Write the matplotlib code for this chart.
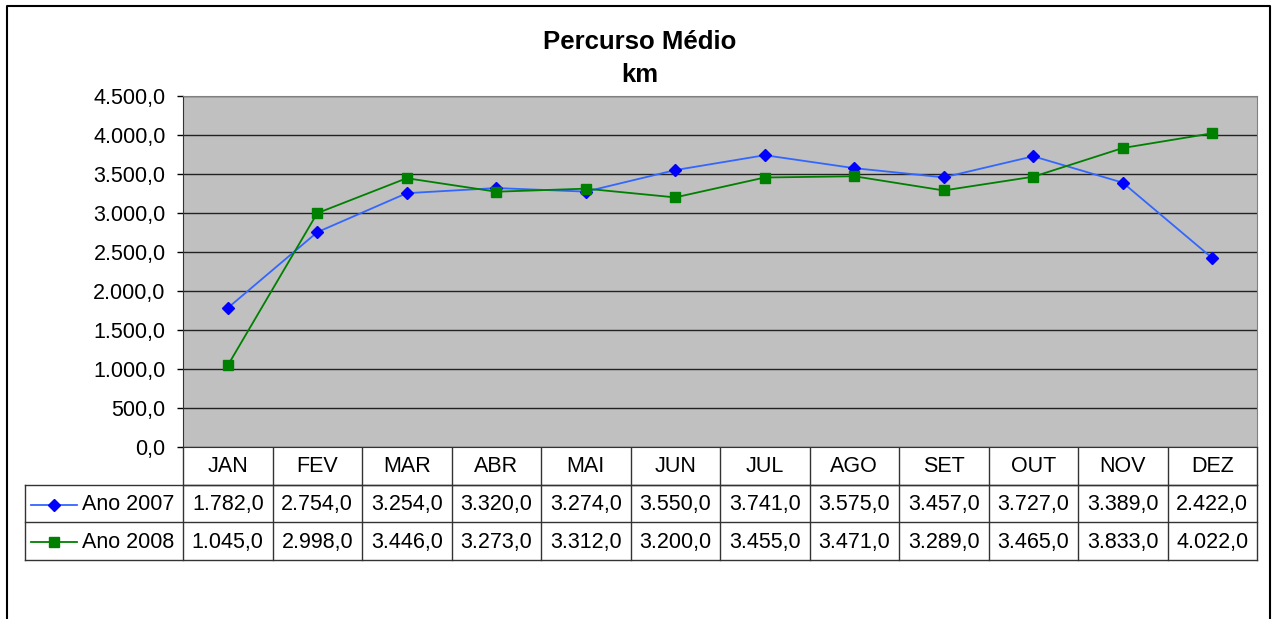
import matplotlib.pyplot as plt
from matplotlib.lines import Line2D

plt.rcParams['font.family'] = ['Liberation Sans', 'DejaVu Sans']

# Dados
meses = ['JAN', 'FEV', 'MAR', 'ABR', 'MAI', 'JUN', 'JUL', 'AGO', 'SET', 'OUT', 'NOV', 'DEZ']
ano_2007 = [1782.0, 2754.0, 3254.0, 3320.0, 3274.0, 3550.0, 3741.0, 3575.0, 3457.0, 3727.0, 3389.0, 2422.0]
ano_2008 = [1045.0, 2998.0, 3446.0, 3273.0, 3312.0, 3200.0, 3455.0, 3471.0, 3289.0, 3465.0, 3833.0, 4022.0]
series = [('Ano 2007', ano_2007, '#3366FF', '#0000FF', 'D'),
          ('Ano 2008', ano_2008, '#008000', '#008000', 's')]
y_ticks = [0, 500, 1000, 1500, 2000, 2500, 3000, 3500, 4000, 4500]

FS = 15.5


def fmt_br(v):
    # 1782.0 -> "1.782,0"
    s = f'{v:,.1f}'
    return s.replace(',', 'X').replace('.', ',').replace('X', '.')


W, H = 1274, 619
fig = plt.figure(figsize=(W / 100, H / 100), dpi=100)

# Moldura externa
frame = fig.add_axes([0, 0, 1, 1])
frame.set_xlim(0, W)
frame.set_ylim(H, 0)
frame.axis('off')
frame.plot([7, 7, 1270, 1270], [H + 5, 6, 6, H + 5], color='black', lw=1.5)

# Area do grafico (pixels)
left, right, top, bottom = 183, 1257, 96, 447
ax = fig.add_axes([left / W, (H - bottom) / H, (right - left) / W, (bottom - top) / H])
ax.set_facecolor('#C0C0C0')
x = list(range(len(meses)))
for nome, vals, lc, mc, mk in series:
    ax.plot(x, vals, color=lc, lw=1.3, marker=mk, markersize=7 if mk == 's' else 6.5,
            markerfacecolor=mc, markeredgecolor=mc, zorder=3)
ax.set_xlim(-0.5, len(meses) - 0.5)
ax.set_ylim(0, 4500)
ax.set_yticks(y_ticks)
ax.set_yticklabels([fmt_br(v) for v in y_ticks], fontsize=FS)
ax.yaxis.grid(True, color='#222222', lw=1)
ax.set_axisbelow(True)
ax.set_xticks([])
ax.tick_params(axis='y', direction='out', length=4.5, width=1, pad=8)
for side in ['top', 'right']:
    ax.spines[side].set_color('#808080')
ax.spines['left'].set_color('#333333')
ax.spines['bottom'].set_color('#333333')

# Titulo
fig.text(640 / W, 1 - 42 / H, 'Percurso Médio', ha='center', va='center',
         fontsize=18.5, fontweight='bold')
fig.text(640 / W, 1 - 75 / H, 'km', ha='center', va='center',
         fontsize=18.5, fontweight='bold')

# Tabela de dados
row_h = 37.7
leg_left = 25
col_w = (right - left) / len(meses)
rows_y = [bottom + i * row_h for i in range(4)]
lc_tab = '#333333'
# linhas horizontais
frame.plot([left, right], [rows_y[1], rows_y[1]], color=lc_tab, lw=1)
frame.plot([leg_left, right], [rows_y[1], rows_y[1]], color=lc_tab, lw=1)
frame.plot([leg_left, right], [rows_y[2], rows_y[2]], color=lc_tab, lw=1)
frame.plot([leg_left, right], [rows_y[3], rows_y[3]], color=lc_tab, lw=1)
# linhas verticais
for i in range(len(meses) + 1):
    xx = left + i * col_w
    frame.plot([xx, xx], [rows_y[0], rows_y[3]], color=lc_tab, lw=1)
frame.plot([leg_left, leg_left], [rows_y[1], rows_y[3]], color=lc_tab, lw=1)

for i, m in enumerate(meses):
    frame.text(left + (i + 0.5) * col_w, (rows_y[0] + rows_y[1]) / 2 + 1, m,
               ha='center', va='center', fontsize=FS)
for r, (nome, vals, lc, mc, mk) in enumerate(series):
    yc = (rows_y[r + 1] + rows_y[r + 2]) / 2 + 1
    for i, v in enumerate(vals):
        frame.text(left + (i + 0.5) * col_w, yc, fmt_br(v),
                   ha='center', va='center', fontsize=FS)
    frame.add_line(Line2D([31, 77], [yc, yc], color=lc, lw=1.3))
    frame.plot([54], [yc], marker=mk, markersize=7 if mk == 's' else 6.5,
               color=mc, markeredgecolor=mc)
    frame.text(82, yc, nome, ha='left', va='center', fontsize=FS)

fig.savefig('out.png', dpi=100)
